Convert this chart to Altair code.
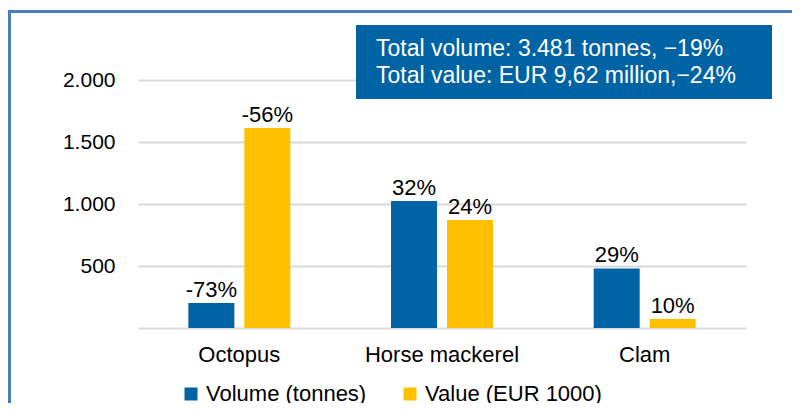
import altair as alt
import pandas as pd

categories = ["Octopus", "Horse mackerel", "Clam"]
series = ["Volume (tonnes)", "Value (EUR 1000)"]
volume = [202, 1024, 480]
value = [1613, 871, 73]
volume_labels = ["-73%", "32%", "29%"]
value_labels = ["-56%", "24%", "10%"]
y_ticks = [0, 500, 1000, 1500, 2000]
box_lines = ["Total volume: 3.481 tonnes, \u221219%", "Total value: EUR 9,62 million,\u221224%"]

BLUE = "#0063a3"
YELLOW = "#ffc000"
FONT = "Liberation Sans"

rows = []
for i, c in enumerate(categories):
    rows.append({"cat": c, "series": series[0], "v": volume[i], "label": volume_labels[i]})
    rows.append({"cat": c, "series": series[1], "v": value[i], "label": value_labels[i]})
df = pd.DataFrame(rows)

W, H = 608, 248

x = alt.X("cat:N", sort=categories, title=None,
          scale=alt.Scale(paddingInner=0.497, paddingOuter=0.2485),
          axis=alt.Axis(labelAngle=0, labelFontSize=22, labelFont=FONT, labelColor="#000000",
                        domain=False, ticks=False, grid=False, labelPadding=16, labelLimit=0))
xo = alt.XOffset("series:N", sort=series,
                 scale=alt.Scale(paddingInner=0.1786, paddingOuter=0))
y = alt.Y("v:Q", title=None,
          scale=alt.Scale(domain=[0, 2000], nice=False),
          axis=alt.Axis(values=y_ticks, labelFontSize=21, labelFont=FONT, labelColor="#000000",
                        domain=False, ticks=False, labelPadding=23,
                        gridColor="#d9d9d9", gridWidth=2,
                        labelExpr="datum.value == 0 ? '' : replace(format(datum.value, ','), ',', '.')"))
color = alt.Color("series:N", sort=series,
                  scale=alt.Scale(domain=series, range=[BLUE, YELLOW]),
                  legend=alt.Legend(title=None, orient="none", legendX=42, legendY=303,
                                    direction="horizontal", symbolType="square",
                                    symbolSize=169, symbolStrokeWidth=0, symbolOpacity=1,
                                    labelFontSize=22, labelFont=FONT, labelColor="#000000",
                                    labelLimit=0, labelOffset=4, columnPadding=32,
                                    padding=0, offset=0))

bars = alt.Chart(df).mark_bar(size=46).encode(x=x, xOffset=xo, y=y, color=color)
labels = alt.Chart(df).mark_text(fontSize=22, font=FONT, color="#000000",
                                 baseline="alphabetic", dy=-6).encode(
    x=x, xOffset=xo, y=y, text="label:N")

border_df = pd.DataFrame({"k": [0]})
left_border = alt.Chart(border_df).mark_rule(color="#4a7ebb", strokeWidth=3).encode(
    x=alt.value(-128.5), y=alt.value(-70), y2=alt.value(400))
top_border = alt.Chart(border_df).mark_rule(color="#4a7ebb", strokeWidth=3).encode(
    x=alt.value(-130), x2=alt.value(700), y=alt.value(-68.5))

box = alt.Chart(border_df).mark_rect(color=BLUE).encode(
    x=alt.value(218), x2=alt.value(634), y=alt.value(-55), y2=alt.value(19))

box_text1 = alt.Chart(border_df).mark_text(
    fontSize=23, font=FONT, color="#ffffff", align="left", baseline="alphabetic",
    text=box_lines[0]).encode(x=alt.value(238), y=alt.value(-24))
box_text2 = alt.Chart(border_df).mark_text(
    fontSize=23, font=FONT, color="#ffffff", align="left", baseline="alphabetic",
    text=box_lines[1]).encode(x=alt.value(238), y=alt.value(3))

chart = alt.layer(bars, labels, box, box_text1, box_text2, left_border, top_border).properties(
    width=W, height=H,
    background="#ffffff",
    autosize=alt.AutoSizeParams(type="none"),
    padding={"left": 130, "top": 72, "right": 46, "bottom": 75},
).configure_view(strokeWidth=0, stroke="transparent")

chart.save("out.html", embed_options={"renderer": "svg", "actions": False})
